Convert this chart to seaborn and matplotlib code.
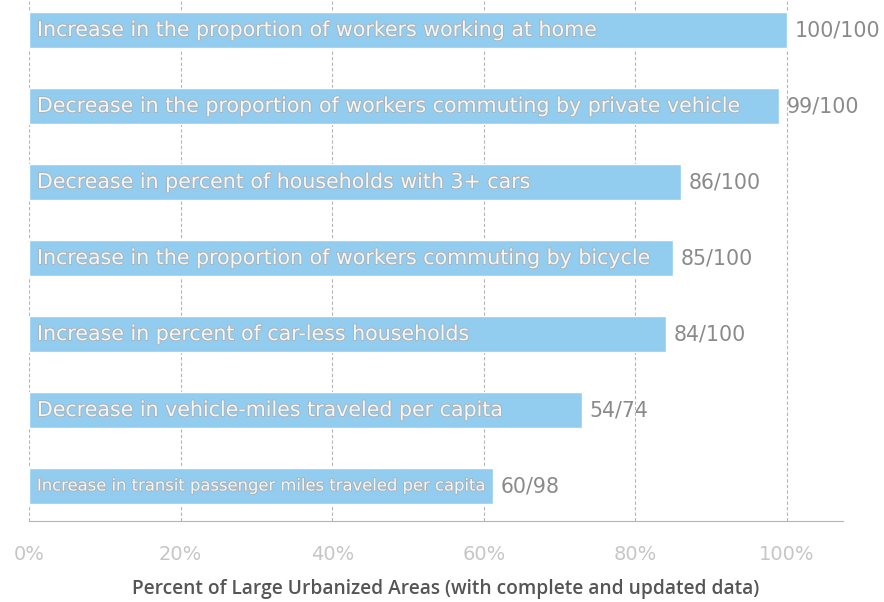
import matplotlib
matplotlib.use("Agg")
import matplotlib.pyplot as plt
import matplotlib.patheffects as pe
import seaborn as sns
import pandas as pd

categories = [
    "Increase in the proportion of workers working at home",
    "Decrease in the proportion of workers commuting by private vehicle",
    "Decrease in percent of households with 3+ cars",
    "Increase in the proportion of workers commuting by bicycle",
    "Increase in percent of car-less households",
    "Decrease in vehicle-miles traveled per capita",
    "Increase in transit passenger miles traveled per capita",
]
numerators = [100, 99, 86, 85, 84, 54, 60]
denominators = [100, 100, 100, 100, 100, 74, 98]
xticks = [0, 20, 40, 60, 80, 100]
xtick_labels = ["0%", "20%", "40%", "60%", "80%", "100%"]
xlabel = "Percent of Large Urbanized Areas (with complete and updated data)"

df = pd.DataFrame({
    "category": categories,
    "num": numerators,
    "den": denominators,
})
df["pct"] = df["num"] / df["den"] * 100
df["label"] = [f"{n}/{d}" for n, d in zip(df["num"], df["den"])]

sns.set_theme(style="white")
plt.rcParams["font.family"] = ["DejaVu Sans"]

fig = plt.figure(figsize=(8.84, 6.02), dpi=100)
ax = fig.add_axes([29 / 884, 1 - 521 / 602, (843 - 29) / 884, 521 / 602])

bar_color = "#92CDF0"
sns.barplot(data=df, x="pct", y="category", orient="h", color=bar_color,
            width=0.47, saturation=1, ax=ax, zorder=3)

ax.set_xlim(0, (843 - 29) / 7.58)
ax.set_ylim(6.46, -0.395)

# gridlines
for xv in xticks:
    ax.axvline(xv, color="#b5b5b5", lw=0.8, ls=(0, (3, 2)), zorder=1)

ax.set_xticks(xticks)
ax.set_xticklabels(xtick_labels, color="#c6c6c6", fontsize=14)
ax.tick_params(axis="x", direction="out", length=5.5, width=0.8,
               color="#b5b5b5", pad=12)
ax.set_yticks([])
ax.set_ylabel("")
ax.set_xlabel(xlabel, fontsize=13.8, color="#555555", fontweight="semibold",
              family=["Open Sans", "DejaVu Sans"])
ax.xaxis.set_label_coords(0.512, -0.111)

for s in ["top", "right", "left"]:
    ax.spines[s].set_visible(False)
ax.spines["bottom"].set_color("#b5b5b5")
ax.spines["bottom"].set_linewidth(0.8)

inner_sizes = [14.8, 14.8, 14.8, 14.8, 14.8, 14.8, 11.8]
shadow = [pe.withStroke(linewidth=1.3, foreground="#a9b3ba")]
for i, row in df.iterrows():
    ax.text(1.05, i, row["category"], va="center", ha="left",
            fontsize=inner_sizes[i], color="#f4f6f7", zorder=5,
            path_effects=shadow)
    ax.text(row["pct"] + 1.0, i, row["label"], va="center", ha="left",
            fontsize=14.8, color="#8a8a8a", zorder=5)

fig.savefig("out.png", dpi=100)
